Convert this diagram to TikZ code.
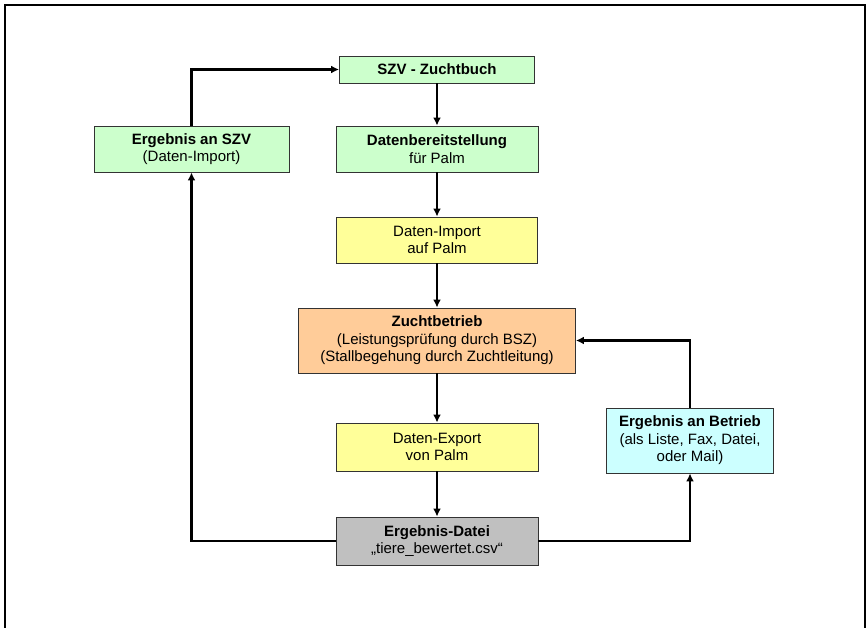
\documentclass[tikz,border=0pt]{standalone}
\usepackage{fontspec}
\setmainfont{Liberation Sans}
\usetikzlibrary{arrows.meta}

\definecolor{gruen}{HTML}{CCFFCC}
\definecolor{gelb}{HTML}{FFFF99}
\definecolor{orange}{HTML}{FFCC99}
\definecolor{tuerkis}{HTML}{CCFFFF}
\definecolor{grau}{HTML}{C0C0C0}

\tikzset{
    kasten/.style = {draw=black!80, line width=0.9pt, align=center, inner sep=0pt,
                     font=\fontsize{15}{17.5}\selectfont},
    pfeil/.style  = {line width=2.2pt, -{Latex[length=8pt,width=8pt]}},
}

\begin{document}
\begin{tikzpicture}[x=1pt,y=-1pt]
            \useasboundingbox (0,0) rectangle (867,628);
            \draw[line width=2pt] (5,628) -- (5,5) -- (865,5) -- (865,628);

            \node[kasten, fill=gruen, minimum width=195, minimum height=27] (zuchtbuch) at (437,69.5) {\textbf{SZV - Zuchtbuch}};
            \node[kasten, fill=gruen, minimum width=195, minimum height=46] (ergszv) at (191.5,149) {\textbf{Ergebnis an SZV}\\(Daten-Import)};
            \node[kasten, fill=gruen, minimum width=202, minimum height=46] (bereit) at (437,149) {\textbf{Datenbereitstellung}\\für Palm};
            \node[kasten, fill=gelb, minimum width=201, minimum height=46] (import) at (437,240) {Daten-Import\\auf Palm};
            \node[kasten, fill=orange, minimum width=277, minimum height=65] (betrieb) at (437,340.5) {\textbf{Zuchtbetrieb}\\(Leistungsprüfung durch BSZ)\\(Stallbegehung durch Zuchtleitung)};
            \node[kasten, fill=gelb, minimum width=202, minimum height=48] (export) at (437,447) {Daten-Export\\von Palm};
            \node[kasten, fill=grau, minimum width=202, minimum height=48] (datei) at (437,541) {\textbf{Ergebnis-Datei}\\„tiere\_bewertet.csv“};
            \node[kasten, fill=tuerkis, minimum width=167, minimum height=65] (ergbetrieb) at (690,440.5) {\textbf{Ergebnis an Betrieb}\\(als Liste, Fax, Datei,\\oder Mail)};

            \draw[pfeil] (zuchtbuch) -- (bereit);
            \draw[pfeil] (bereit) -- (import);
            \draw[pfeil] (import) -- (betrieb);
            \draw[pfeil] (betrieb) -- (export);
            \draw[pfeil] (export) -- (datei);
            \draw[pfeil] (datei.west) -| (ergszv.south);
            \draw[pfeil] (ergszv.north) |- (zuchtbuch.west);
            \draw[pfeil] (datei.east) -| (ergbetrieb.south);
            \draw[pfeil] (ergbetrieb.north) |- (betrieb.east);
        \end{tikzpicture}
\end{document}
